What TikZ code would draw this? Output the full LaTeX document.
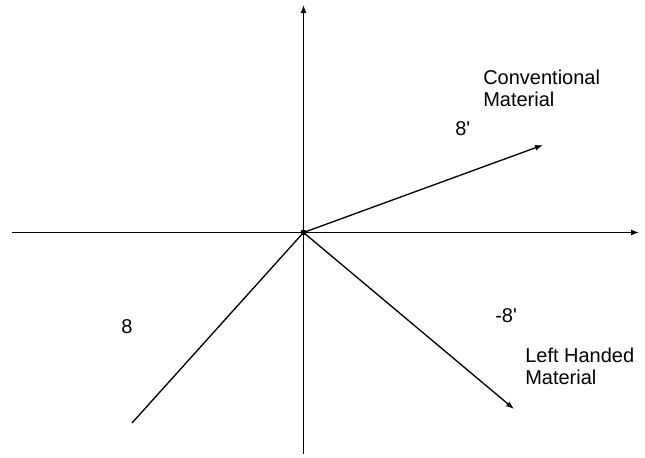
\documentclass[tikz,border=0pt]{standalone}
\usepackage{fontspec}
\setmainfont{Liberation Sans}
\usepackage{tikz}
\usetikzlibrary{arrows.meta,positioning}
\tikzset{axisarr/.style={-{Latex[length=6pt,width=4.5pt]},line width=1pt,draw=black},
 vecarr/.style={-{Latex[length=6pt,width=4.5pt]},line width=1pt,draw=black},
 matlabel/.style={anchor=north west,inner sep=0pt,align=left,font=\fontsize{15}{16.5}\selectfont},
 anglabel/.style={anchor=base west,inner sep=0pt,font=\fontsize{15}{16.5}\selectfont}}

\begin{document}
\begin{tikzpicture}[x=0.75pt,y=-0.75pt]
\useasboundingbox (0,0) rectangle (645,457);
\node[circle,fill=black,inner sep=0pt,minimum size=4.5pt] (o) at (303.5,232.5) {};
\coordinate (xl) at (12,232.5);
\coordinate (xr) at (639,232.5);
\coordinate (yb) at (303.5,454);
\coordinate (yt) at (303.5,5);
\coordinate (conv) at (543,145);
\coordinate (lhm) at (514,409);
\coordinate (inc) at (132,423);
\draw[axisarr] (xl)--(xr);
\draw[axisarr] (yb)--(yt);
\draw[vecarr] (o.center)--(conv);
\draw[vecarr] (o.center)--(lhm);
\draw[line width=1pt] (o.center)--(inc);
\node[matlabel] (convtext) at (483,69.5) {Conventional\\Material};
\node[matlabel] (lhmtext) at (525,347.5) {Left Handed\\Material};
\node[anglabel] (thi) at (121,333) {8};
\node[anglabel] (thc) at (455,135) {8\textquotesingle};
\node[anglabel] (thl) at (495,322) {-8\textquotesingle};
\end{tikzpicture}
\end{document}
